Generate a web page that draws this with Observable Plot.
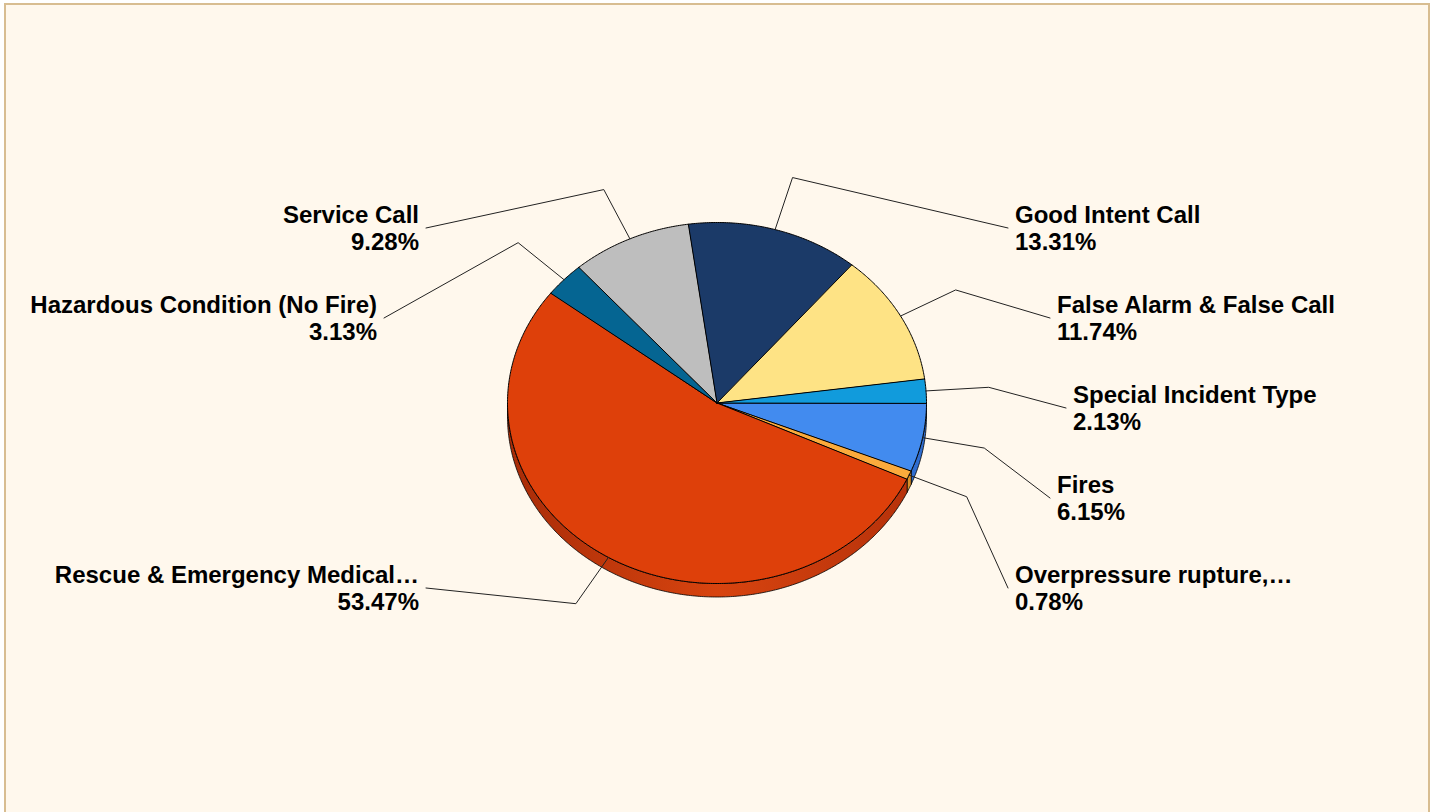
<!DOCTYPE html>
<html><head><meta charset="utf-8">
<script src="https://cdn.jsdelivr.net/npm/d3@7"></script>
<script src="https://cdn.jsdelivr.net/npm/@observablehq/plot@0.6"></script>
<style>
html,body{margin:0;padding:0;background:#fff;width:1434px;height:812px;overflow:hidden;}
#frame{position:absolute;left:4px;top:3px;width:1422px;height:860px;border:2px solid #d8bd91;background:#fff8ed;}
#chart{position:absolute;left:0;top:0;}
</style></head><body>
<div id="frame"></div><div id="chart"></div>
<script>
// ---- data ----
const categories = ["Fires", "Overpressure rupture,…", "Rescue & Emergency Medical…", "Hazardous Condition (No Fire)", "Service Call", "Good Intent Call", "False Alarm & False Call", "Special Incident Type"];
const percents = [6.15, 0.78, 53.47, 3.13, 9.28, 13.31, 11.74, 2.13];
const topColors = ["#428bef", "#fbab3c", "#de400a", "#056592", "#bebebe", "#1b3a68", "#fee385", "#119bdc"];
const sideColors = ["#2f6dcf", "#d9902a", "url(#rescueSide)", "#04496a", "#8f8f8f", "#12284a", "#d8bd60", "#0c78ad"];

// ---- layout ----
const W = 1434, H = 812;
const cx = 716.5, cy = 402.5, rx = 209.5, ry = 180.5, depth = 13.5;
const D = depth / ry;
const rowStart = cy - 175, rowStep = 90;
const rowOffsets = [298, 340, 356, 340, 298]; // horizontal distance of label edge from pie centre, per row

const total = d3.sum(percents);
let acc = 0;
const slices = categories.map((name, i) => {
  const a0 = acc / total * 2 * Math.PI; acc += percents[i];
  const a1 = acc / total * 2 * Math.PI;
  return {i, name, pct: percents[i], a0, a1, mid: (a0 + a1) / 2};
});
const arcPts = (a0, a1, dy = 0) => {
  const n = Math.max(2, Math.ceil((a1 - a0) / (Math.PI / 360)));
  return d3.range(n + 1).map(k => { const a = a0 + (a1 - a0) * k / n; return {x: Math.cos(a), y: Math.sin(a) + dy}; });
};

// side walls (front half only)
const sideMarks = slices.filter(s => s.a0 < Math.PI).map(s => {
  const b0 = s.a0, b1 = Math.min(s.a1, Math.PI);
  const pts = [...arcPts(b0, b1, 0), ...arcPts(b0, b1, D).reverse()];
  return Plot.line(pts, {x: "x", y: "y", curve: "linear-closed", fill: sideColors[s.i], stroke: "#000", strokeWidth: 0.8});
});
// top faces
const topMarks = slices.map(s =>
  Plot.line([{x: 0, y: 0}, ...arcPts(s.a0, s.a1)], {x: "x", y: "y", curve: "linear-closed", fill: topColors[s.i], stroke: "#000", strokeWidth: 1, strokeLinejoin: "round"})
);

// label rows
const nRows = rowOffsets.length;
const labelData = [];
for (const side of ["right", "left"]) {
  const group = slices.filter(s => (Math.cos(s.mid) >= 0) === (side === "right"))
    .map(s => ({...s, ideal: cy + 1.3 * ry * Math.sin(s.mid)}))
    .sort((a, b) => a.ideal - b.ideal);
  let last = -1;
  for (const s of group) {
    let k = Math.round((s.ideal - rowStart) / rowStep);
    k = Math.max(k, last + 1); k = Math.min(k, nRows - 1);
    last = k;
    const py = rowStart + k * rowStep;
    const dyr = py - cy;
    const sign = side === "right" ? 1 : -1;
    const px = cx + sign * rowOffsets[k];
    labelData.push({
      side, text: `${s.name}\n${s.pct.toFixed(2)}%`,
      lx: (px - cx) / rx, ly: dyr / ry,
      path: [
        {x: Math.cos(s.mid), y: Math.sin(s.mid)},
        {x: 1.3 * Math.cos(s.mid), y: 1.3 * Math.sin(s.mid)},
        {x: (px - sign * 7 - cx) / rx, y: dyr / ry}
      ]
    });
  }
}
const leaderMarks = labelData.map(l => Plot.line(l.path, {x: "x", y: "y", stroke: "#222", strokeWidth: 1}));
const textOpts = {x: "lx", y: "ly", text: "text", fontSize: 24, fontWeight: "bold", lineHeight: 1.125, fill: "#000", fontFamily: "'Liberation Sans', Arial, sans-serif"};

const chart = Plot.plot({
  width: W, height: H, margin: 0,
  x: {domain: [-cx / rx, (W - cx) / rx], range: [0, W], axis: null},
  y: {domain: [-cy / ry, (H - cy) / ry], range: [0, H], axis: null},
  style: {background: "transparent"},
  marks: [
    ...sideMarks,
    ...topMarks,
    ...leaderMarks,
    Plot.text(labelData.filter(d => d.side === "right"), {...textOpts, textAnchor: "start"}),
    Plot.text(labelData.filter(d => d.side === "left"), {...textOpts, textAnchor: "end"})
  ]
});
d3.select(chart).insert("defs", ":first-child").html(
  `<linearGradient id="rescueSide" gradientUnits="userSpaceOnUse" x1="${cx - rx}" x2="${cx + rx}" y1="0" y2="0">
     <stop offset="0" stop-color="#a82c08"/><stop offset="0.5" stop-color="#d8440f"/><stop offset="1" stop-color="#b3300a"/>
   </linearGradient>`);
document.getElementById("chart").appendChild(chart);
</script>
</body></html>
